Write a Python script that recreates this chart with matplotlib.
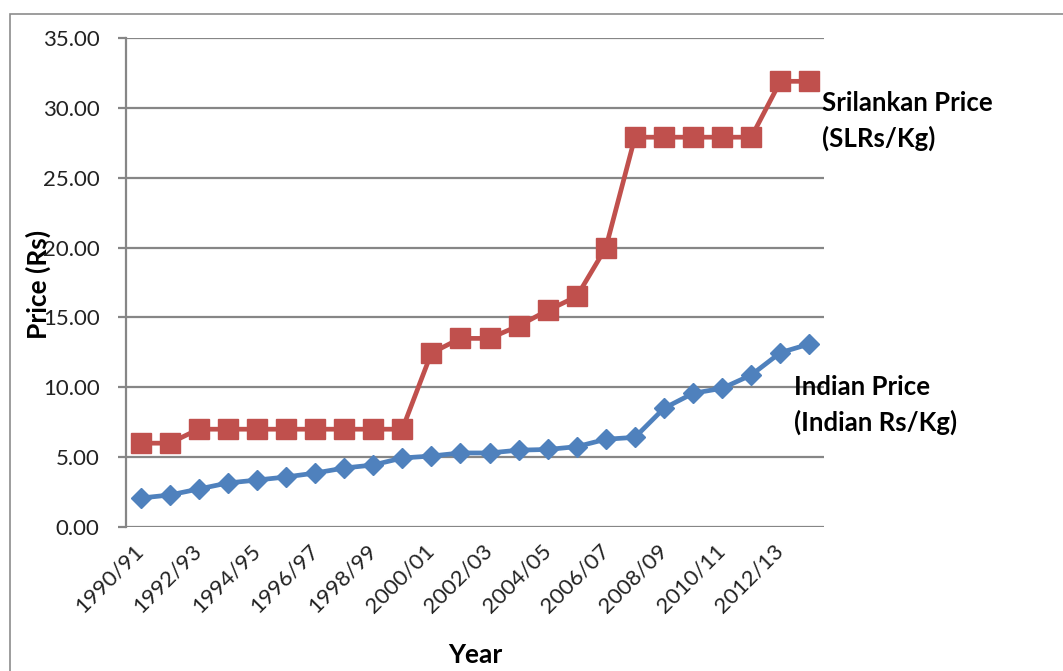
import numpy as np
import matplotlib
matplotlib.use("Agg")
import matplotlib.pyplot as plt
from matplotlib.patches import Rectangle

# ── Data ─────────────────────────────────────────────────────────────────────
years = ["1990/91", "1991/92", "1992/93", "1993/94", "1994/95", "1995/96",
         "1996/97", "1997/98", "1998/99", "1999/00", "2000/01", "2001/02",
         "2002/03", "2003/04", "2004/05", "2005/06", "2006/07", "2007/08",
         "2008/09", "2009/10", "2010/11", "2011/12", "2012/13", "2013/14"]

srilankan_price = [6.0, 6.0, 7.0, 7.0, 7.0, 7.0, 7.0, 7.0, 7.0, 7.0,
                   12.45, 13.5, 13.5, 14.4, 15.5, 16.5, 20.0, 27.9,
                   27.9, 27.9, 27.9, 27.9, 31.9, 31.9]

indian_price = [2.07, 2.29, 2.72, 3.15, 3.36, 3.58, 3.86, 4.22, 4.44, 4.94,
                5.08, 5.3, 5.3, 5.5, 5.55, 5.75, 6.28, 6.42, 8.5, 9.57,
                9.93, 10.88, 12.48, 13.1]

y_ticks = [0, 5, 10, 15, 20, 25, 30, 35]

RED = "#C0504D"
BLUE = "#4F81BD"
GRID = "#868686"
FONT = "Lato"

# ── Figure ───────────────────────────────────────────────────────────────────
W, H = 1063, 671
fig = plt.figure(figsize=(W / 100, H / 100), dpi=100)
ax = fig.add_axes([126 / W, 1 - 527 / H, 698 / W, 489 / H])

# outer chart frame (left and top edges show)
fig.patches.append(Rectangle((10 / W, -0.1), 1.2, 0.1 + (H - 14) / H,
                             transform=fig.transFigure, fill=False,
                             edgecolor="#8c8c8c", linewidth=1.2))

x = np.arange(len(years))
ax.plot(x, srilankan_price, color=RED, linewidth=3.4, marker="s",
        markersize=15, zorder=3, clip_on=False)
ax.plot(x, indian_price, color=BLUE, linewidth=3.4, marker="D",
        markersize=10.5, zorder=4, clip_on=False)

ax.set_xlim(-0.5, len(years) - 0.5)
ax.set_ylim(0, 35)
ax.set_yticks(y_ticks)
ax.set_yticklabels([f"{v:.2f}" for v in y_ticks], fontsize=16, family=FONT,
                   color="#222222")
ax.set_xticks(x[::2])
ax.set_xticklabels(years[::2], rotation=45, ha="right", va="center",
                   rotation_mode="anchor", fontsize=16, family=FONT,
                   color="#222222")

ax.grid(axis="y", color=GRID, linewidth=1.6, zorder=1)
ax.set_axisbelow(True)
for side in ["top", "right", "bottom"]:
    ax.spines[side].set_visible(False)
ax.spines["left"].set_color(GRID)
ax.spines["left"].set_linewidth(1.6)
ax.tick_params(axis="y", length=6, width=1.6, color=GRID, pad=13)
ax.tick_params(axis="x", length=0, pad=15)

fig.text(38 / W, 1 - 284 / H, "Price (Rs)", rotation=90, fontsize=19,
         fontweight="bold", family=FONT, ha="center", va="center")
fig.text(475 / W, 1 - 655 / H, "Year", fontsize=19, fontweight="bold",
         family=FONT, ha="center", va="center")

# series labels at the right end of each line
ax.text(23.43, 29.05, "Srilankan Price\n(SLRs/Kg)", fontsize=18.5,
        fontweight="bold", family=FONT, va="center", ha="left",
        linespacing=1.5, clip_on=False)
ax.text(22.47, 8.75, "Indian Price\n(Indian Rs/Kg)", fontsize=18.5,
        fontweight="bold", family=FONT, va="center", ha="left",
        linespacing=1.5, clip_on=False)

fig.savefig("out.png", dpi=100)
